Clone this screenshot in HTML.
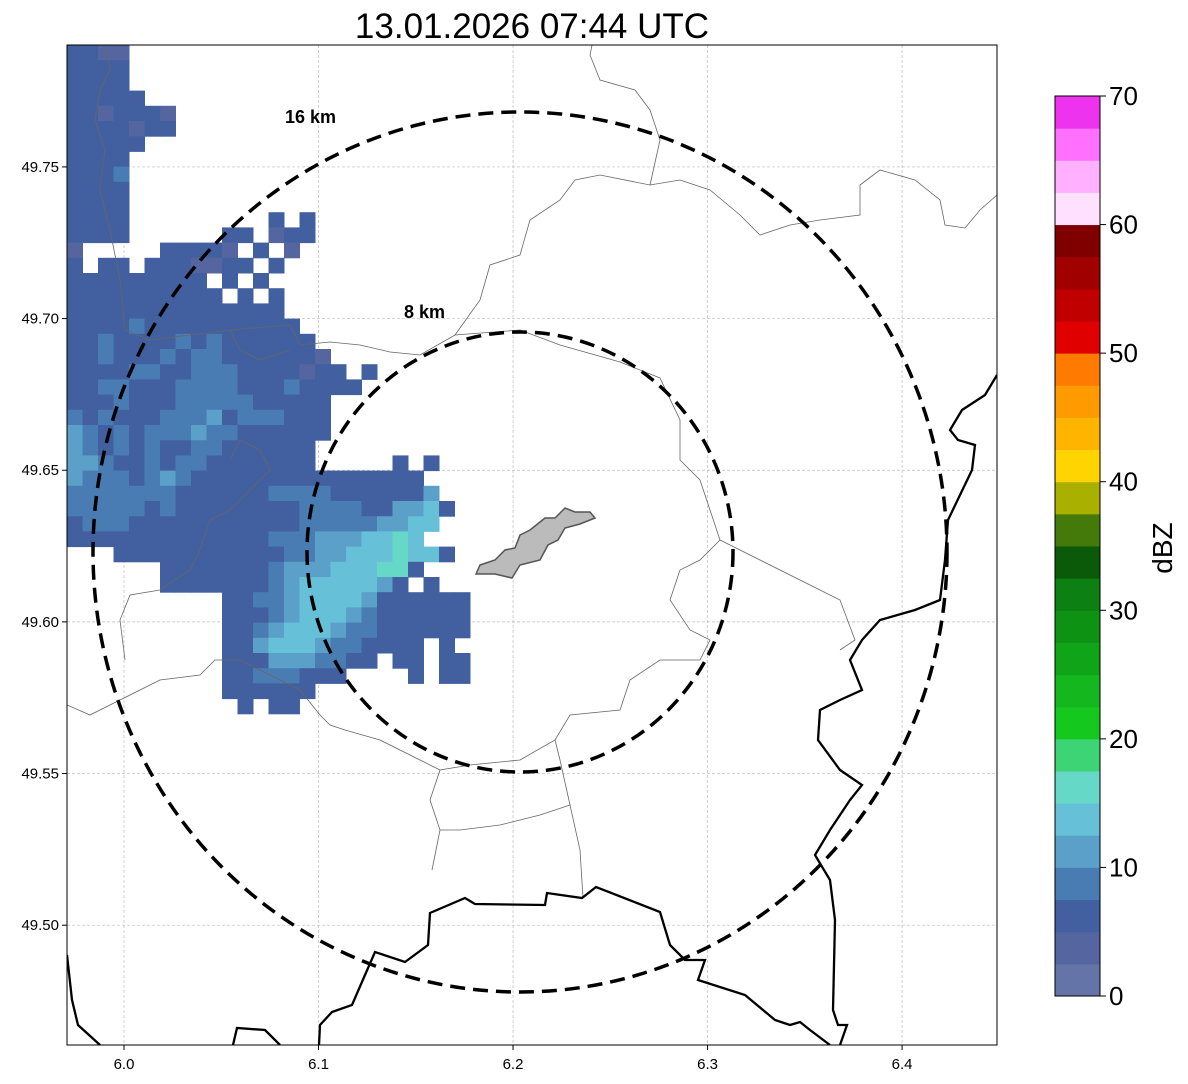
<!DOCTYPE html>
<html><head><meta charset="utf-8"><style>
body{margin:0;background:#fff;font-family:"Liberation Sans","DejaVu Sans",sans-serif}
svg{display:block}
</style></head><body>
<svg id="chart" width="1188" height="1084" font-family="Liberation Sans, DejaVu Sans, sans-serif">
<text x="532" y="38" text-anchor="middle" font-size="35">13.01.2026 07:44 UTC</text>
<defs><clipPath id="mapclip"><rect x="67" y="45" width="930" height="1000"/></clipPath></defs>
<g id="map" clip-path="url(#mapclip)"></g>
<rect x="67" y="45" width="930" height="1000" fill="none" stroke="#000" stroke-width="1"/>
<g id="axes"></g>
<g id="cbar"></g>
</svg>
<script>
const NS='http://www.w3.org/2000/svg';
const lonTicks=[6.0,6.1,6.2,6.3,6.4];
const latTicks=[49.50,49.55,49.60,49.65,49.70,49.75];
const cbTicks=[0,10,20,30,40,50,60,70];
const binColors=['#6574a8','#5565a0','#4260a0','#4a7cb4','#5aa0c8','#66c0d8','#66d8c8','#3cd474','#14c81e','#14b81e','#10a418','#0e9214','#0c8012','#0a5a0a','#447a0a','#aab000','#ffd400','#ffb400','#ff9a00','#ff7a00','#e00000','#c00000','#a00000','#800000','#ffe0ff','#ffb0ff','#ff70ff','#ee33ee'];
const radarRows=[
"2211","2222","2222","22222","2212221","2222122","22222","2222","2223","2222","2222",
"2222.........2.2","2222......22.122","1.....22221.2.1","2.22.2221122.2","222222222.2.2","2222222222.2.2",
"22222222222222","222232222222222","2232222323222222","22322232332222221","222233223332222122.2",
"2233222333322232222","22232223333322222","32322233342333222","43232333433222222","4323232233222222",
"4432232332222222.....2.2","43332343222222222222222","333333322222233332222224","3333323222222223333224452",
"233322222222222333334455","22222222222223334445565","...2222222222233445556552","......22222223444555662",
"......2222222345555542.2","..........2233455554222222","..........2223455543222222","..........2234555433222222",
"..........2245554332222.2","..........2224443322.22.22","..........22333222....2.22","..........222222","...........2.22"];
const lonMin=5.9707,lonMax=6.4488,latMin=49.4605,latMax=49.7902;
const X=l=>67+(l-lonMin)/(lonMax-lonMin)*930;
const Y=l=>1045-(l-latMin)/(latMax-latMin)*1000;
function el(t,a,p){const e=document.createElementNS(NS,t);for(const k in a)e.setAttribute(k,a[k]);(p||document.getElementById('chart')).appendChild(e);return e;}
const map=document.getElementById('map');
lonTicks.forEach(v=>{const g=el('line',{x1:X(v),x2:X(v),y1:45,y2:1045,stroke:'#bbb','stroke-width':0.7,'stroke-dasharray':'3,2'},map);

});
latTicks.forEach(v=>{const g=el('line',{x1:67,x2:997,y1:Y(v),y2:Y(v),stroke:'#bbb','stroke-width':0.7,'stroke-dasharray':'3,2'},map);

});
const cw=15.5,ch=15.2;
radarRows.forEach((row,r)=>{for(let c=0;c<row.length;c++){const ch2=row[c];if(ch2==='.')continue;
const rc=el('rect',{x:67+c*cw,y:45+r*ch,width:cw+0.5,height:ch+0.5,fill:binColors[+ch2]},map);

}});
const thin=["M105,45 L110,70 L100,90 L95,120 L105,150 L100,190 L110,230 L120,280 L125,330 L150,340 L230,330 L290,325 L300,345 L330,342 L360,345 L390,352 L420,355 L455,335 L520,330 L560,345 L620,362 L660,378 L680,420 L680,460 L700,480 L720,540 L700,560 L680,570 L670,600 L690,630 L710,640 L700,660 L660,660 L630,680 L620,710 L570,715 L555,740 L520,760 L470,765 L440,770 L430,800 L440,830 L460,830 L500,825 L540,815 L570,805 L580,850 L583,898",
"M67,705 L90,715 L120,700 L160,680 L200,675 L215,660 L240,660 L270,675 L300,690 L320,715 L330,725 L345,730 L380,740 L420,760 L440,770",
"M570,805 L560,760 L555,740",
"M440,830 L432,870",
"M997,195 L980,210 L965,228 L945,225 L940,200 L915,180 L880,170 L860,185 L860,215 L820,220 L790,225 L760,235 L740,215 L710,190 L680,180 L650,185 L600,175 L575,180 L560,200 L530,220 L520,255 L490,265 L480,300 L455,335",
"M650,185 L660,140 L650,110 L635,90 L600,80 L590,55 L592,45",
"M120,45 L150,45",
"M230,460 L240,440 L260,450 L270,470 L250,490 L230,510 L210,520 L200,550 L190,570 L160,590 L130,595 L120,620 L125,660",
"M720,540 L760,560 L800,580 L840,600 L855,640 L840,650",
"M230,330 L240,350 L260,360 L290,350"];
thin.forEach(d=>{const p=el('path',{d,fill:'none',stroke:'#666','stroke-width':0.8},map);

});
const thick=["M67,955 L72,1000 L78,1025 L100,1045",
"M233,1045 L237,1028 L265,1030 L280,1045",
"M319,1045 L320,1025 L332,1012 L352,1005 L365,975 L375,952 L405,962 L428,945 L430,913 L465,898 L475,904 L545,905 L547,893 L582,898 L596,887 L660,912 L670,945 L685,960 L705,960 L698,980 L745,995 L775,1020 L790,1025 L800,1022 L810,1030 L830,1045",
"M997,375 L985,395 L962,410 L950,430 L958,440 L975,445 L972,470 L960,495 L948,520 L945,560 L940,600 L915,610 L880,620 L862,640 L850,660 L862,690 L840,700 L820,710 L818,740 L840,770 L862,785 L850,800 L830,830 L815,855 L830,880 L835,920 L833,1010 L838,1025 L847,1025 L840,1045"];
thick.forEach(d=>{const p=el('path',{d,fill:'none',stroke:'#000','stroke-width':2.3},map);

});
const city=el('path',{d:'M476,574 L480,565 L495,560 L505,550 L515,548 L520,535 L530,530 L545,518 L555,518 L565,508 L575,512 L590,512 L595,518 L580,524 L565,528 L558,540 L548,545 L540,560 L520,565 L512,578 L495,574 Z',fill:'#bbb',stroke:'#555','stroke-width':1.5},map);


[[213,220,'8 km',404,318],[427,440,'16 km',285,123]].forEach(([rx,ry,lab,tx,ty])=>{
const e=el('ellipse',{cx:520,cy:552,rx,ry,fill:'none',stroke:'#000','stroke-width':3.5,'stroke-dasharray':'15,8'},map);


const t=el('text',{x:tx,y:ty,'font-size':18,'font-weight':'bold'},map);t.textContent=lab;

});
lonTicks.forEach(v=>{el('line',{x1:X(v),x2:X(v),y1:1045,y2:1050,stroke:'#000'});
const t=el('text',{x:X(v),y:1069,'font-size':15,'text-anchor':'middle'});t.textContent=v.toFixed(1);

});
latTicks.forEach(v=>{el('line',{x1:62,x2:67,y1:Y(v),y2:Y(v),stroke:'#000'});
const t=el('text',{x:59,y:Y(v)+5,'font-size':15,'text-anchor':'end'});t.textContent=v.toFixed(2);

});
const cb=document.getElementById('cbar');const cbTop=96,cbBot=996,cbMax=70;
const CY=v=>cbBot-v/cbMax*(cbBot-cbTop);
for(let i=0;i<28;i++){const r=el('rect',{x:1055,y:CY((i+1)*2.5),width:45,height:CY(i*2.5)-CY((i+1)*2.5)+0.5,fill:binColors[i]},cb);

}
el('rect',{x:1055,y:cbTop,width:45,height:cbBot-cbTop,fill:'none',stroke:'#000','stroke-width':1},cb);
cbTicks.forEach(v=>{el('line',{x1:1100,x2:1106,y1:CY(v),y2:CY(v),stroke:'#000'},cb);
const t=el('text',{x:1109,y:CY(v)+9,'font-size':26},cb);t.textContent=v;

});
const u=el('text',{x:1172,y:548,'font-size':28,'text-anchor':'middle',transform:'rotate(-90 1172 548)'},cb);u.textContent='dBZ';


</script>
</body></html>
